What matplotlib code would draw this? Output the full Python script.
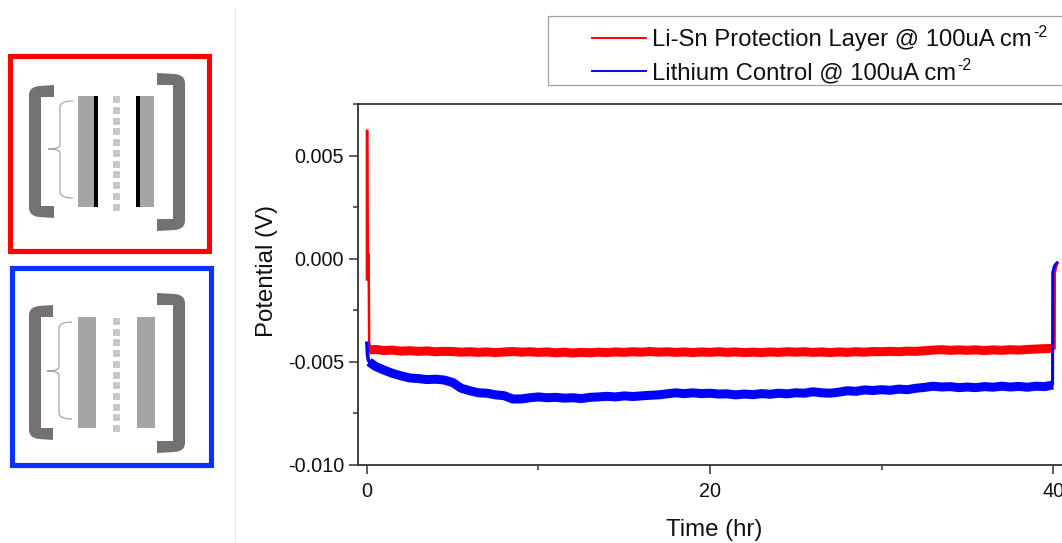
import matplotlib
matplotlib.use('Agg')
from matplotlib import pyplot as plt
from matplotlib.patches import Rectangle, PathPatch
from matplotlib.path import Path
import numpy as np

plt.rcParams['font.family'] = ['Liberation Sans', 'DejaVu Sans']

# thin parts of the curves (start spike / end jump)
red_spike_t = [0.0, 0.0, 0.02, 0.04, 0.07, 0.08, 0.10, 0.13, 0.20]
red_spike_v = [-0.0010, 0.0062, 0.0062, -0.00015, -0.00015, 0.0002, 0.0002, -0.0040, -0.0044]
blue_start_t = [0.0, 0.0, 0.03, 0.08, 0.15]
blue_start_v = [-0.0041, -0.0041, -0.0046, -0.0049, -0.0050]
red_end_t = [40.0, 40.07, 40.08, 40.2, 40.25]
red_end_v = [-0.00435, -0.00435, -0.0007, -0.00025, -0.0002]
blue_end_t = [39.9, 39.97, 39.98, 40.08, 40.2]
blue_end_v = [-0.0061, -0.0061, -0.00068, -0.00035, -0.00022]

# thick noisy bands, one value about every half hour
band_t = [0.12, 0.5, 1.0, 1.5, 2.0, 2.5, 3.0, 3.5, 4.0, 4.5, 5.0, 5.5, 6.0, 6.5, 7.0, 7.5, 8.0, 8.5, 9.0, 9.5,
          10.0, 10.5, 11.0, 11.5, 12.0, 12.5, 13.0, 13.5, 14.0, 14.5, 15.0, 15.5, 16.0, 16.5, 17.0, 17.5, 18.0, 18.5, 19.0, 19.5,
          20.0, 20.5, 21.0, 21.5, 22.0, 22.5, 23.0, 23.5, 24.0, 24.5, 25.0, 25.5, 26.0, 26.5, 27.0, 27.5, 28.0, 28.5, 29.0, 29.5,
          30.0, 30.5, 31.0, 31.5, 32.0, 32.5, 33.0, 33.5, 34.0, 34.5, 35.0, 35.5, 36.0, 36.5, 37.0, 37.5, 38.0, 38.5, 39.0, 39.5, 40.0]
red_band = [-0.00442, -0.00440, -0.00445, -0.00443, -0.00448, -0.00446, -0.00449, -0.00447, -0.00451, -0.00449, -0.00450, -0.00453,
            -0.00451, -0.00454, -0.00452, -0.00455, -0.00452, -0.00450, -0.00453, -0.00451, -0.00454, -0.00452, -0.00456, -0.00453,
            -0.00457, -0.00454, -0.00456, -0.00453, -0.00455, -0.00452, -0.00454, -0.00451, -0.00453, -0.00450, -0.00453, -0.00451,
            -0.00454, -0.00452, -0.00455, -0.00452, -0.00454, -0.00451, -0.00454, -0.00452, -0.00455, -0.00453, -0.00455, -0.00452,
            -0.00454, -0.00451, -0.00453, -0.00451, -0.00454, -0.00452, -0.00455, -0.00452, -0.00454, -0.00451, -0.00453, -0.00450,
            -0.00451, -0.00449, -0.00451, -0.00448, -0.00449, -0.00446, -0.00443, -0.00441, -0.00444, -0.00442, -0.00444, -0.00442,
            -0.00445, -0.00442, -0.00444, -0.00441, -0.00443, -0.00440, -0.00438, -0.00436, -0.00435]
blue_band = [-0.00500, -0.00522, -0.00540, -0.00556, -0.00568, -0.00578, -0.00581, -0.00586, -0.00584, -0.00588, -0.00600, -0.00628,
             -0.00640, -0.00650, -0.00652, -0.00660, -0.00664, -0.00680, -0.00680, -0.00674, -0.00670, -0.00674, -0.00672, -0.00676,
             -0.00674, -0.00678, -0.00672, -0.00670, -0.00667, -0.00670, -0.00665, -0.00668, -0.00665, -0.00662, -0.00660, -0.00655,
             -0.00650, -0.00654, -0.00650, -0.00654, -0.00652, -0.00656, -0.00655, -0.00660, -0.00656, -0.00659, -0.00654, -0.00657,
             -0.00652, -0.00655, -0.00650, -0.00652, -0.00645, -0.00650, -0.00652, -0.00647, -0.00640, -0.00643, -0.00636, -0.00639,
             -0.00635, -0.00638, -0.00632, -0.00635, -0.00628, -0.00624, -0.00618, -0.00622, -0.00620, -0.00625, -0.00622, -0.00625,
             -0.00620, -0.00623, -0.00618, -0.00622, -0.00619, -0.00623, -0.00618, -0.00620, -0.00612]

x_major = [0, 20, 40]
x_minor = [10, 30]
y_major = [-0.010, -0.005, 0.000, 0.005]
y_minor = [-0.0075, -0.0025, 0.0025, 0.0075]
y_labels = ['-0.010', '-0.005', '0.000', '0.005']
legend_labels = ['Li-Sn Protection Layer @ 100uA cm', 'Lithium Control @ 100uA cm']
superscript = '-2'

W, H = 1062, 543
fig = plt.figure(figsize=(W / 100, H / 100), dpi=100)

# overlay in pixel coordinates for schematics and the legend box
bg = fig.add_axes([0, 0, 1, 1])
bg.set_xlim(0, W)
bg.set_ylim(H, 0)
bg.axis('off')

bracket_color = '#767171'
bar_color = '#a5a5a5'
square_color = '#c6c6c6'


def bracket(x0, x1, y0, y1, side):
    # side=-1 opens to the right, side=1 opens to the left
    t = 12
    M, L, C, Z = Path.MOVETO, Path.LINETO, Path.CURVE3, Path.CLOSEPOLY
    if side < 0:
        verts = [(x1, y0), (x0 + 10, y0 + 1), (x0, y0 + 2), (x0, y0 + 10), (x0, y1 - 10), (x0, y1 - 2), (x0 + 10, y1 - 1),
                 (x1, y1), (x1, y1 - t), (x0 + t, y1 - t), (x0 + t, y0 + t), (x1, y0 + t), (x1, y0)]
    else:
        verts = [(x0, y0), (x1 - 10, y0 + 1), (x1, y0 + 2), (x1, y0 + 10), (x1, y1 - 10), (x1, y1 - 2), (x1 - 10, y1 - 1),
                 (x0, y1), (x0, y1 - t), (x1 - t, y1 - t), (x1 - t, y0 + t), (x0, y0 + t), (x0, y0)]
    codes = [M, L, C, C, L, C, C, L, L, L, L, L, Z]
    bg.add_patch(PathPatch(Path(verts, codes), fc=bracket_color, ec='none'))


def brace(x_tip, x_mid, x_end, y0, y_tip, y1):
    codes = [Path.MOVETO, Path.CURVE3, Path.CURVE3, Path.LINETO, Path.CURVE3, Path.CURVE3, Path.CURVE3, Path.CURVE3,
             Path.LINETO, Path.CURVE3, Path.CURVE3]
    verts = [(x_end, y0), (x_mid, y0), (x_mid, y0 + 6), (x_mid, y_tip - 4), (x_mid, y_tip), (x_tip, y_tip),
             (x_mid, y_tip), (x_mid, y_tip + 4), (x_mid, y1 - 6), (x_mid, y1), (x_end, y1)]
    bg.add_patch(PathPatch(Path(verts, codes), fc='none', ec='#a6a6a6', lw=0.9))


def squares(xc, y_first, y_last):
    for yc in np.linspace(y_first, y_last, 11):
        bg.add_patch(Rectangle((xc - 3, yc - 3), 6, 6, fc=square_color, ec='#b5b5b5', lw=0.4))


# top schematic, red box
bg.add_patch(Rectangle((10.0, 56.0), 199, 195, fc='none', ec='#ff0000', lw=3.7))
bracket(29, 54, 85, 218, -1)
bracket(157, 185, 73, 231, 1)
brace(48, 60, 73, 101, 149, 198)
bg.add_patch(Rectangle((78, 96), 16, 111, fc=bar_color, ec='none'))
bg.add_patch(Rectangle((93.7, 96), 4.6, 111, fc='black', ec='none'))
bg.add_patch(Rectangle((135.7, 96), 4.6, 111, fc='black', ec='none'))
bg.add_patch(Rectangle((140.3, 96), 14, 111, fc=bar_color, ec='none'))
squares(116, 99, 206.5)

# bottom schematic, blue box
bg.add_patch(Rectangle((12.0, 268.0), 199, 197, fc='none', ec='#0a30ff', lw=3.7))
bracket(29, 53, 305, 440, -1)
bracket(157, 185, 293, 453, 1)
brace(47, 59, 72, 322, 371, 419)
bg.add_patch(Rectangle((78, 317), 18, 111, fc=bar_color, ec='none'))
bg.add_patch(Rectangle((137, 317), 18, 111, fc=bar_color, ec='none'))
squares(116, 321, 428)

# light divider
bg.plot([234.5, 234.5], [8, H], color='#e6e6e6', lw=0.8)

# legend box runs off the right edge
bg.add_patch(Rectangle((547.5, 16), 530, 69, fc='white', ec='#a0a0a0', lw=0.9))
bg.plot([592, 646], [38, 38], color='#ff0000', lw=1.4)
bg.plot([592, 646], [71, 71], color='#0000ff', lw=1.4)
for label, yc in zip(legend_labels, [38, 71]):
    txt = bg.text(652.5, yc + 8, label, fontsize=17.2, color='#111111', ha='left', va='baseline')
    bg.annotate(superscript, xy=(1, 1), xycoords=txt, xytext=(0.5, 3), textcoords='offset points',
                fontsize=11.5, color='#111111', ha='left', va='top', annotation_clip=False)

# main plot
ax = fig.add_axes([358 / W, 1 - 465 / H, (W - 358) / W, (465 - 104) / H])
ax.patch.set_alpha(0)
ax.set_xlim(-0.52, 40.52)
ax.set_ylim(-0.010, 0.0075)

ax.plot(red_spike_t, red_spike_v, color='#ff0000', lw=1.8, solid_joinstyle='miter')
ax.plot(band_t, red_band, color='#ff0000', lw=6.5, solid_capstyle='butt')
ax.plot(red_end_t, red_end_v, color='#ff0000', lw=2.2)
ax.plot(blue_start_t, blue_start_v, color='#0000ff', lw=2.6)
ax.plot(band_t, blue_band, color='#0000ff', lw=6.5, solid_capstyle='butt')
ax.plot(blue_end_t, blue_end_v, color='#0000ff', lw=2.2)

ax.set_xticks(x_major)
ax.set_xticks(x_minor, minor=True)
ax.set_yticks(y_major)
ax.set_yticklabels(y_labels)
ax.set_yticks(y_minor, minor=True)
ax.tick_params(which='major', length=6.5, width=1.1, color='#333333', labelsize=14.3, labelcolor='#111111')
ax.tick_params(axis='y', which='major', pad=3.5)
ax.tick_params(axis='x', which='major', pad=6)
ax.tick_params(which='minor', length=3.6, width=1.1, color='#333333')

for side in ['top', 'bottom', 'left']:
    ax.spines[side].set_color('#333333')
    ax.spines[side].set_linewidth(1.3)
ax.spines['right'].set_visible(False)

ax.set_ylabel('Potential (V)', fontsize=17.3, color='#111111', va='center')
ax.yaxis.set_label_coords((267 - 358) / (W - 358), (465 - 271) / (465 - 104))
ax.set_xlabel('Time (hr)', fontsize=17.3, color='#111111', va='center')
ax.xaxis.set_label_coords((714 - 358) / (W - 358), -(530 - 465) / (465 - 104))

fig.savefig('out.png', dpi=100)
